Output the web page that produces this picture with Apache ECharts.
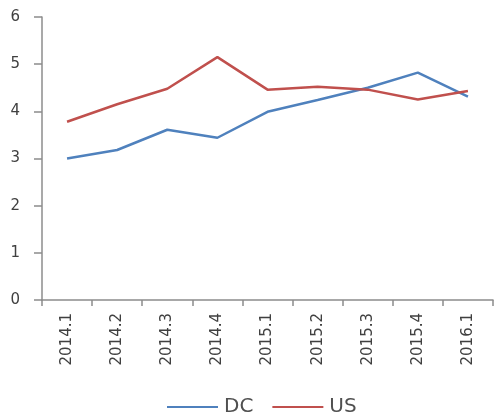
<!DOCTYPE html>
<html>
<head>
<meta charset="utf-8">
<script src="https://cdn.jsdelivr.net/npm/echarts@6/dist/echarts.min.js"></script>
<style>
  html, body { margin: 0; padding: 0; background: #fff; }
  #chart { width: 494px; height: 418px; }
</style>
</head>
<body>
<div id="chart"></div>
<script>
// Quarterly values for DC and US
const categories = ['2014.1', '2014.2', '2014.3', '2014.4', '2015.1', '2015.2', '2015.3', '2015.4', '2016.1'];
const dcValues = [3.0, 3.18, 3.61, 3.44, 3.99, 4.24, 4.5, 4.82, 4.31];
const usValues = [3.78, 4.15, 4.48, 5.15, 4.46, 4.52, 4.46, 4.25, 4.43];
const yTicks = [0, 1, 2, 3, 4, 5, 6];

const axisColor = '#8c8c8c';
const textColor = '#404040';
const font = 'DejaVu Sans';

const chart = echarts.init(document.getElementById('chart'), null, { renderer: 'canvas' });
chart.setOption({
  animation: false,
  grid: { left: 42, right: 1, top: 17, bottom: 118, containLabel: false },
  legend: {
    top: 397,
    left: 167,
    padding: 0,
    itemWidth: 51,
    itemHeight: 14,
    itemGap: 19,
    textStyle: { fontFamily: font, fontSize: 20, color: '#505050', padding: [0, 0, 0, 1] },
    data: [
      { name: 'DC', icon: 'path://M0,6 L51,6 L51,8 L0,8 Z' },
      { name: 'US', icon: 'path://M0,6 L51,6 L51,8 L0,8 Z' }
    ]
  },
  xAxis: {
    type: 'category',
    data: categories,
    boundaryGap: true,
    axisLine: { lineStyle: { color: axisColor, width: 1.5 } },
    axisTick: { show: true, length: 6, alignWithLabel: false, lineStyle: { color: axisColor, width: 1.5 } },
    axisLabel: { rotate: 90, margin: 13, fontFamily: font, fontSize: 15, color: textColor }
  },
  yAxis: {
    type: 'value',
    min: yTicks[0],
    max: yTicks[yTicks.length - 1],
    interval: 1,
    splitLine: { show: false },
    axisLine: { show: true, lineStyle: { color: axisColor, width: 1.5 } },
    axisTick: { show: true, length: 8, lineStyle: { color: axisColor, width: 1.5 } },
    axisLabel: { margin: 22, fontFamily: font, fontSize: 15, color: textColor }
  },
  series: [
    {
      name: 'DC', type: 'line', data: dcValues, symbol: 'none',
      lineStyle: { color: '#4f81bd', width: 2.5 }, itemStyle: { color: '#4f81bd' }
    },
    {
      name: 'US', type: 'line', data: usValues, symbol: 'none',
      lineStyle: { color: '#c0504d', width: 2.5 }, itemStyle: { color: '#c0504d' }
    }
  ]
});
</script>
</body>
</html>
